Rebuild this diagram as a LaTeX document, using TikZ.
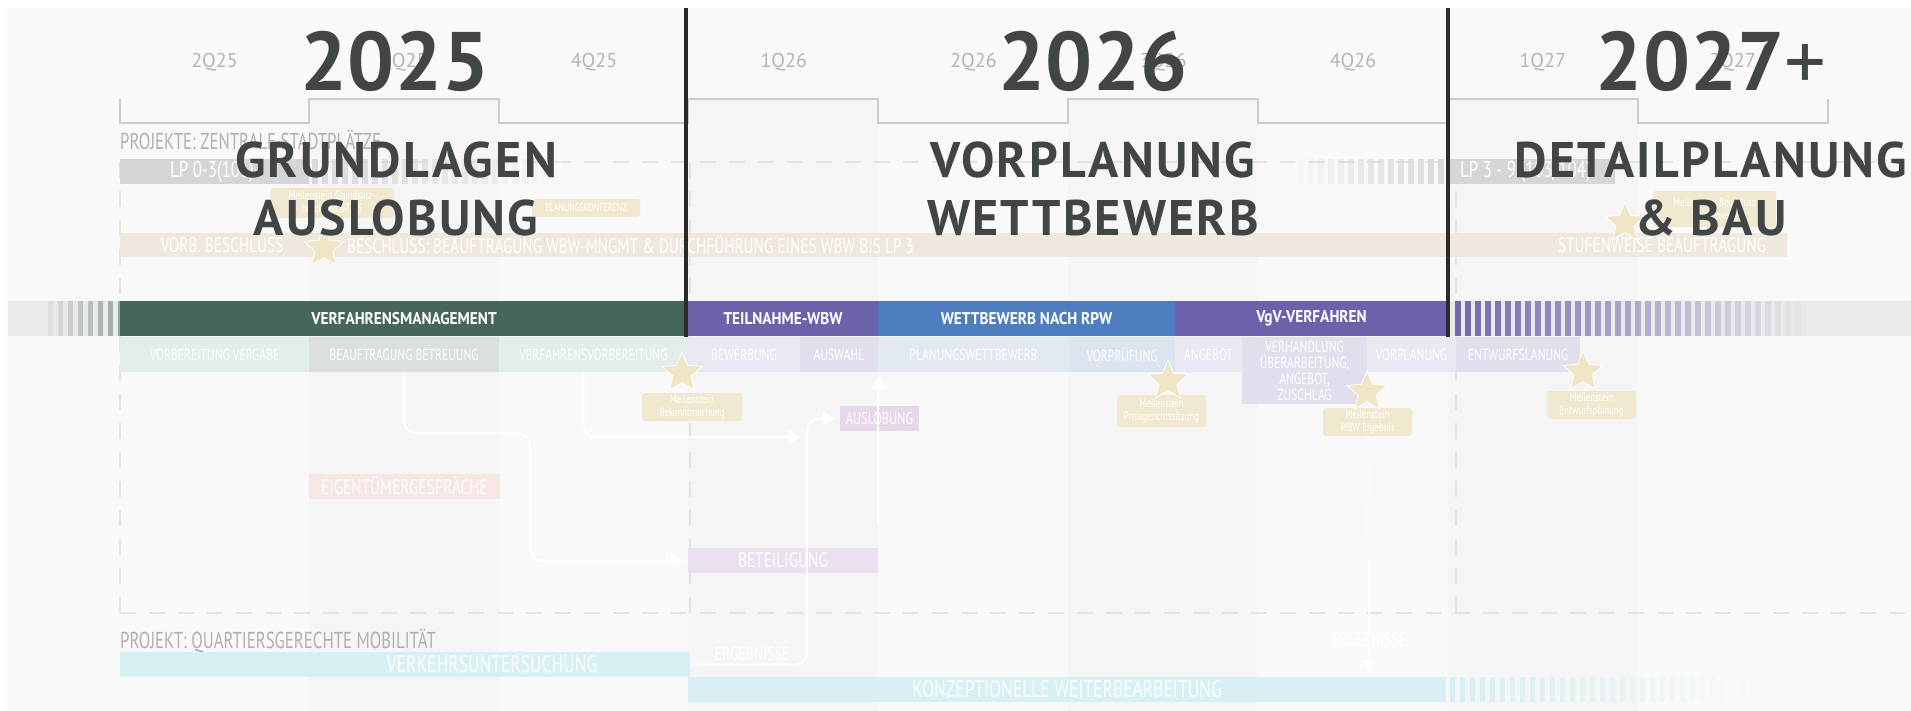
\documentclass[tikz,border=0pt]{standalone}
\usepackage{fontspec}
\setmainfont{PT Sans}
\newfontfamily\condfont[FakeStretch=0.73]{PT Sans}
\newfontfamily\barfont[FakeStretch=0.9]{PT Sans}
\newfontfamily\headfont{PT Sans}
\newfontfamily\stagefont[LetterSpace=4.5]{PT Sans}
\usetikzlibrary{shapes.geometric,arrows.meta}
\newcommand{\setfs}[2]{\fontsize{#1}{#2}\selectfont}

\definecolor{bgbase}{HTML}{F9F9F9}
\definecolor{bgcol}{HTML}{F5F5F5}
\definecolor{axisgray}{HTML}{CCCCCC}
\definecolor{qgray}{HTML}{B5B5B5}
\definecolor{dashgray}{HTML}{E4E4E4}
\definecolor{pgray}{HTML}{B0B0B0}
\definecolor{lpgray}{HTML}{D6D6D6}
\definecolor{beige}{HTML}{EFE8DF}
\definecolor{milefill}{HTML}{F1E9CF}
\definecolor{starfill}{HTML}{EFE6C5}
\definecolor{vmgreen}{HTML}{46665A}
\definecolor{vgvpurple}{HTML}{6A63AC}
\definecolor{rpwblue}{HTML}{4F7EC0}
\definecolor{greenlight}{HTML}{E3EDE9}
\definecolor{greengray}{HTML}{DAE0DD}
\definecolor{lavone}{HTML}{EAE8F2}
\definecolor{lavtwo}{HTML}{E1DFEE}
\definecolor{blueone}{HTML}{E3E9F2}
\definecolor{bluetwo}{HTML}{DCE4F0}
\definecolor{auslpink}{HTML}{E6D8EA}
\definecolor{eigpink}{HTML}{F6E6E6}
\definecolor{betlav}{HTML}{EAE0F0}
\definecolor{mobcyan}{HTML}{D7F0F3}
\definecolor{headgray}{HTML}{414546}
\definecolor{divider}{HTML}{2B2B2B}
\definecolor{bandgray}{HTML}{EAEAEA}

\begin{document}
\begin{tikzpicture}[x=1pt,y=-1pt,
    qaxis/.style={draw=axisgray, line width=1.5pt},
    boxline/.style={draw=dashgray, line width=2pt, dash pattern=on 16pt off 13pt},
    quarter/.style={text=qgray, font=\setfs{20}{20}},
    project/.style={text=pgray, anchor=west, inner sep=0, font=\condfont\setfs{23}{23}},
    phase/.style={inner sep=0, minimum height=35, text=white, font=\barfont\bfseries\setfs{17}{17}},
    subbar/.style={inner sep=0, minimum height=35, text=white, font=\condfont\setfs{16}{16}},
    lprow/.style={inner sep=0, minimum height=25},
    lptext/.style={text=white, inner sep=0, font=\condfont\setfs{21}{21}},
    mile/.style={fill=milefill, rounded corners=3pt, inner sep=0, text=white, align=center, font=\condfont\setfs{12}{13}},
    milestar/.style={star, star points=5, star point ratio=2.2, fill=starfill, draw=white, line width=0.8pt, minimum size=42, inner sep=0},
    flow/.style={draw=white, line width=2pt, rounded corners=12pt, -{Triangle[width=14pt,length=12pt]}, shorten >=5pt},
    year/.style={text=headgray, font=\headfont\bfseries\setfs{83}{83}},
    stage/.style={text=headgray, align=center, font=\stagefont\bfseries\setfs{50}{58}}]
  \useasboundingbox (0,0) rectangle (1911,711);

  % background, quarter columns
  \fill[white] (0,0) rectangle (1911,711);
  \fill[bgbase] (7,8) rectangle (1911,711);
  \foreach \q in {309,688,1068,1448}
    \fill[bgcol] (\q,99) rectangle ++(190,612);

  % quarter axis
  \draw[qaxis] (120,99) -- (120,123) -- (309,123) -- (309,99) -- (499,99) -- (499,123)
    -- (688,123) -- (688,99) -- (878,99) -- (878,123) -- (1068,123) -- (1068,99)
    -- (1258,99) -- (1258,123) -- (1448,123) -- (1448,99) -- (1638,99) -- (1638,123)
    -- (1828,123) -- (1828,99);
  \foreach \lbl [count=\i from 0] in {2Q25,3Q25,4Q25,1Q26,2Q26,3Q26,4Q26,1Q27,2Q27}
    \node[quarter] (q\i) at ({214.5+189.75*\i},62) {\lbl};

  % project frame
  \draw[boxline] (120,162) -- (1911,162);
  \draw[boxline] (120,613) -- (1911,613);
  \foreach \x in {120,690,1456}
    \draw[boxline] (\x,162) -- (\x,613);
  \node[project] (proj1) at (120,140) {PROJEKTE: ZENTRALE STADTPLÄTZE};
  \node[project] (proj2) at (120,641) {PROJEKT: QUARTIERSGERECHTE MOBILITÄT};

  % LP row
  \node[lprow, fill=lpgray, minimum width=189] (lp1) at (214.5,171.5) {};
  \node[lptext, anchor=west, font=\condfont\setfs{23}{23}] (lp1t) at (170,171.5) {LP 0-3(101)};
  \foreach \i [evaluate=\i as \op using 0.9-\i*0.034] in {0,...,25}
    \fill[lpgray, opacity=\op] ({312+10*\i},159) rectangle ++(6,25);
  \foreach \i [evaluate=\i as \op using 0.05+\i*0.055] in {0,...,15}
    \fill[lpgray, opacity=\op] ({1288+10*\i},159) rectangle ++(6,25);
  \node[lprow, fill=lpgray, minimum width=166] (lp2) at (1532,171.5) {};
  \node[lptext, anchor=west, font=\condfont\setfs{23}{23}] (lp2t) at (1460,171.5) {LP 3 - 9 (103/104)};

  % decisions row
  \node[lprow, fill=beige, minimum width=1667, minimum height=24] (beschl) at (953.5,245) {};
  \node[lptext] (vorb) at (222,245) {VORB. BESCHLUSS};
  \node[lptext, anchor=west] (wbw) at (347,245) {BESCHLUSS: BEAUFTRAGUNG WBW-MNGMT \& DURCHFÜHRUNG EINES WBW BIS LP 3};
  \node[lptext] (stufe) at (1662,245) {STUFENWEISE BEAUFTRAGUNG};

  % upper milestones
  \node[mile, minimum width=123, minimum height=30] (m1) at (332,203) {Meilenstein Grundsatz-\\beschluss 07/25};
  \node[mile, minimum width=108, minimum height=18, font=\condfont\setfs{11}{11}] (m2) at (586,208) {PLANUNGSKONFERENZ};
  \node[mile, minimum width=123, minimum height=36] (m3) at (1714.5,209) {Meilenstein Beschluss\\Wettbewerb};
  \node[milestar] (st1) at (324,248) {};
  \node[milestar] (st6) at (1625,223) {};

  % phase bar
  \fill[bandgray] (8,301) rectangle (1911,336);
  \foreach \i [evaluate=\i as \op using 0.08+\i*0.06] in {0,...,7}
    \fill[vmgreen, opacity=\op] ({48+10*\i},301) rectangle ++(5,35);
  \node[phase, fill=vmgreen, minimum width=568] (vm) at (404,318.5) {VERFAHRENSMANAGEMENT};
  \node[phase, fill=vgvpurple, minimum width=190] (tw) at (783,318.5) {TEILNAHME-WBW};
  \node[phase, fill=rpwblue, minimum width=297] (rpw) at (1026.5,318.5) {WETTBEWERB NACH RPW};
  \node[phase, fill=vgvpurple, minimum width=273] (vgv) at (1311.5,318.5) {VgV-VERFAHREN};
  \foreach \i [evaluate=\i as \op using 0.95-\i*0.027] in {0,...,34}
    \fill[vgvpurple, opacity=\op] ({1455+10*\i},301) rectangle ++(6,35);

  % sub phases
  \node[subbar, fill=greenlight, minimum width=189] (s1) at (214.5,354.5) {VORBEREITUNG VERGABE};
  \node[subbar, fill=greengray, minimum width=190] (s2) at (404,354.5) {BEAUFTRAGUNG BETREUUNG};
  \node[subbar, fill=greenlight, minimum width=189] (s3) at (593.5,354.5) {VERFAHRENSVORBEREITUNG};
  \node[subbar, fill=lavone, minimum width=112] (s4) at (744,354.5) {BEWERBUNG};
  \node[subbar, fill=lavtwo, minimum width=78] (s5) at (839,354.5) {AUSWAHL};
  \node[subbar, fill=blueone, minimum width=191] (s6) at (973.5,354.5) {PLANUNGSWETTBEWERB};
  \node[subbar, fill=bluetwo, minimum width=106] (s7) at (1122,354.5) {VORPRÜFUNG};
  \node[subbar, fill=lavone, minimum width=67] (s8) at (1208.5,354.5) {ANGEBOT};
  \node[subbar, fill=lavtwo, minimum width=125, minimum height=67, align=center,
    font=\condfont\setfs{16}{16}] (s9) at (1304.5,370.5) {VERHANDLUNG\\ÜBERARBEITUNG,\\ANGEBOT,\\ZUSCHLAG};
  \node[subbar, fill=lavone, minimum width=89] (s10) at (1411.5,354.5) {VORPLANUNG};
  \node[subbar, fill=lavtwo, minimum width=124] (s11) at (1518,354.5) {ENTWURFSLANUNG};

  % lower boxes
  \node[lprow, fill=auslpink, minimum width=79, text=white, font=\condfont\setfs{17}{17}] (ausl) at (879.5,418.5) {AUSLOBUNG};
  \node[lprow, fill=eigpink, minimum width=191, text=white, font=\condfont\setfs{21}{21}] (eig) at (404.5,486) {EIGENTÜMERGESPRÄCHE};
  \node[lprow, fill=betlav, minimum width=190, text=white, font=\condfont\setfs{21}{21}] (bet) at (783,560.5) {BETEILIGUNG};

  % mobility project
  \node[lprow, fill=mobcyan, minimum width=570] (vu) at (405,664.5) {};
  \node[lptext, font=\condfont\setfs{24}{24}] (vut) at (492,664.5) {VERKEHRSUNTERSUCHUNG};
  \node[lprow, fill=mobcyan, minimum width=758, text=white, font=\condfont\setfs{24}{24}] (kw) at (1067,689.5) {KONZEPTIONELLE WEITERBEARBEITUNG};
  \foreach \i [evaluate=\i as \op using 0.95-\i*0.031] in {0,...,30}
    \fill[mobcyan, opacity=\op] ({1450+10*\i},677) rectangle ++(5,25);
  \node[lptext, font=\condfont\setfs{19}{19}] (e1) at (752,654) {ERGEBNISSE};
  \node[lptext, font=\condfont\setfs{19}{19}] (e2) at (1369,640) {ERGEBNISSE};

  % lower milestones
  \node[mile, minimum width=100, minimum height=28] (m4) at (692,407) {Meilenstein\\Bekanntmachung};
  \node[mile, minimum width=89, minimum height=32] (m5) at (1161.5,411) {Meilenstein\\Preisgerichtssitzung};
  \node[mile, minimum width=89, minimum height=28] (m6) at (1367.5,422) {Meilenstein\\WBW Ergebnis};
  \node[mile, minimum width=89, minimum height=28] (m7) at (1591.5,405) {Meilenstein\\Entwurfsplanung};

  % connectors
  \coordinate (join) at (805,437);
  \draw[flow] (s2.south) -- ++(0,61) -- ++(126,0) |- (bet.west);
  \draw[flow] ([xshift=-10pt]s3.south) -- ++(0,65) -- (join);
  \draw[flow] (vu.east) -- ++(117,0) |- (ausl.west);
  \draw[flow, shorten <=24pt] (bet.north east) -- (bet.north east |- s5.south);
  \draw[white, line width=1.5pt] (m6.south) -- (e2.north);
  \draw[flow] (e2.south) -- (e2.south |- kw.north);

  % stars
  \node[milestar] (st2) at (682,373) {};
  \node[milestar] (st3) at (1168,381) {};
  \node[milestar] (st4) at (1367,392) {};
  \node[milestar] (st5) at (1583,372) {};

  % year dividers
  \draw[divider, line width=4pt] (686,8) -- (686,337);
  \draw[divider, line width=4pt] (1448,8) -- (1448,337);

  % years and stages
  \node[year] (y25) at (395,61) {2025};
  \node[year] (y26) at (1093,61) {2026};
  \node[year] (y27) at (1711,61) {2027\mdseries+};
  \node[stage] (g25) at (396,189) {GRUNDLAGEN\\AUSLOBUNG};
  \node[stage] (g26) at (1093,189) {VORPLANUNG\\WETTBEWERB};
  \node[stage] (g27) at (1711,189) {DETAILPLANUNG\\\& BAU};
\end{tikzpicture}
\end{document}
